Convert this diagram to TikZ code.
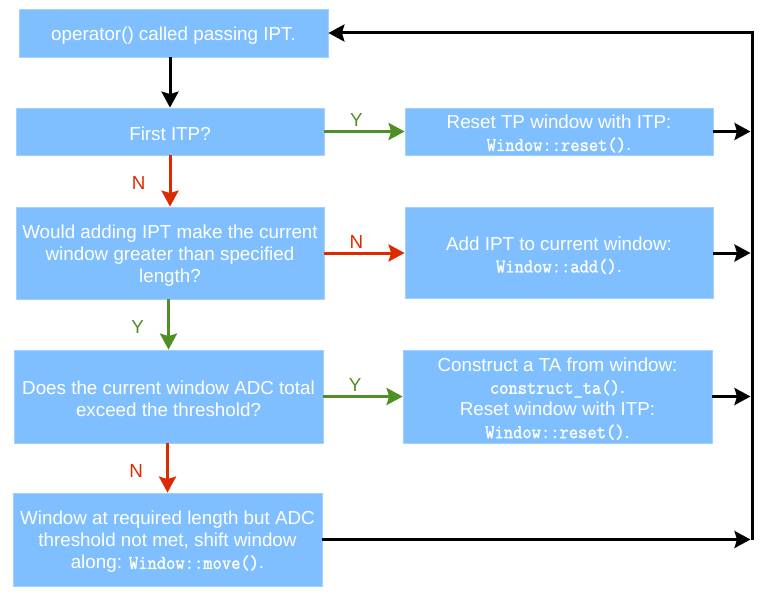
\documentclass[tikz,border=0pt]{standalone}
\usepackage{fontspec}
\setmainfont{Liberation Sans}
\setmonofont{Latin Modern Mono}[FakeBold=1.4,FakeStretch=0.92]
\usepackage{tikz}
\usetikzlibrary{
arrows.meta,
positioning,
calc
}
\definecolor{boxblue}{HTML}{80BFFF}
\definecolor{boxedge}{HTML}{A3D0FF}
\definecolor{yesgreen}{HTML}{4F8F23}
\definecolor{nored}{HTML}{DC2B00}
\newcommand{\code}[1]{{\fontsize{19.6}{22.2}\selectfont\ttfamily #1}}
\newcommand{\topstrut}{\rule{0pt}{18.4pt}}

\begin{document}
\begin{tikzpicture}[x=1pt,y=-1pt,
    >={Stealth[length=16pt,width=17pt,inset=2.5pt]},
    box/.style={draw=boxedge, line width=0.8pt, fill=boxblue, text=white, align=center, inner sep=0pt,
        font=\fontsize{18.8}{22.2}\selectfont},
    flow/.style={line width=3pt},
    yes/.style={flow, draw=yesgreen},
    no/.style={flow, draw=nored},
    mylabel/.style={inner sep=0pt, font=\fontsize{18.8}{22.4}\selectfont}]
    \useasboundingbox (0,0) rectangle (767,599);
    % left column
    \node[box, minimum width=309pt, minimum height=48pt] (call) at (173.5,33) {\topstrut operator() called passing IPT.};
    \node[box, minimum width=308pt, minimum height=47pt] (first) at (170,131.5) {\topstrut First ITP?};
    \node[box, minimum width=308pt, minimum height=92pt] (len) at (170,253) {\topstrut Would adding IPT make the current\\window greater than specified\\length?};
    \node[box, minimum width=309pt, minimum height=93pt] (adc) at (168.5,396.5) {\topstrut Does the current window ADC total\\exceed the threshold?};
    \node[box, minimum width=309pt, minimum height=93pt] (move) at (167.5,539.5) {\topstrut Window at required length but ADC\\threshold not met, shift window\\along: \code{Window::move()}.};
    % right column
    \node[box, minimum width=308pt, minimum height=47pt] (reset) at (559,131.5) {\topstrut Reset TP window with ITP:\\\code{Window::reset()}.};
    \node[box, minimum width=308pt, minimum height=91pt] (add) at (559,253) {\topstrut Add IPT to current window:\\\code{Window::add()}.};
    \node[box, minimum width=309pt, minimum height=93pt] (ta) at (557.5,396.5) {\topstrut Construct a TA from window:\\\code{construct\_ta()}.\\Reset window with ITP:\\\code{Window::reset()}.};
    \coordinate (top) at (752,33);
    \coordinate (bot) at (752,540);
    % decisions
    \draw[flow,->] (first |- call.south) -- (first);
    \draw[no,->] (first) -- node[mylabel, text=nored, pos=0.54, left=23pt] {N} (len);
    \draw[yes,->] (adc |- len.south) -- node[mylabel, text=yesgreen, pos=0.55, left=23pt] {Y} (adc);
    \draw[no,->] (move |- adc.south) -- node[mylabel, text=nored, pos=0.56, left=23pt] {N} (move);
    \draw[yes,->] (first) -- node[mylabel, text=yesgreen, pos=0.4, above=3.5pt] {Y} (reset);
    \draw[no,->] (len) -- node[mylabel, text=nored, pos=0.4, above=3.5pt] {N} (add);
    \draw[yes,->] (adc) -- node[mylabel, text=yesgreen, pos=0.4, above=3.5pt] {Y} (ta);
    % back to the start
    \draw[flow,->,shorten >=1.5pt] (reset) -- (reset -| bot);
    \draw[flow,->,shorten >=1.5pt] (add) -- (add -| bot);
    \draw[flow,->,shorten >=1.5pt] (ta) -- (ta -| bot);
    \draw[flow,->,shorten >=1.5pt] (move) -- (move -| bot);
    \draw[flow,->] (bot) -- (top) -- (call);
\end{tikzpicture}
\end{document}
